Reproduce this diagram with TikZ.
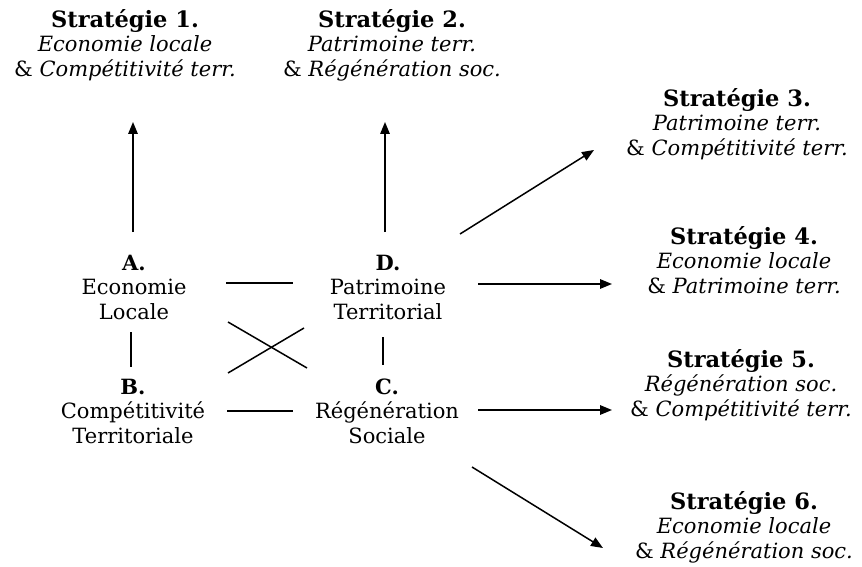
\documentclass[tikz,border=0pt]{standalone}
\usepackage{fontspec}
\setmainfont{DejaVu Serif}
\usetikzlibrary{arrows.meta,calc}
\newcommand{\hd}[1]{{\fontsize{22.5}{24.5}\selectfont\textbf{#1}}}
\begin{document}
\begin{tikzpicture}[x=1pt,y=-1pt,
  txt/.style={align=center,inner sep=0pt,font=\fontsize{21}{24.5}\selectfont},
  ln/.style={line width=1.5pt},
  arr/.style={line width=1.5pt,-{Triangle[length=12pt,width=9.5pt]}}]
\useasboundingbox (0,0) rectangle (862,567);
% strategy blocks
\node[txt] (S1) at (125,45) {\hd{Stratégie 1.}\\\textit{Economie locale}\\\& \textit{Compétitivité terr.}};
\node[txt] (S2) at (392,45) {\hd{Stratégie 2.}\\\textit{Patrimoine terr.}\\\& \textit{Régénération soc.}};
\node[txt] (S3) at (737,124) {\hd{Stratégie 3.}\\\textit{Patrimoine terr.}\\\& \textit{Compétitivité terr.}};
\node[txt] (S4) at (744,260) {\hd{Stratégie 4.}\\\textit{Economie locale}\\\& \textit{Patrimoine terr.}};
\node[txt] (S5) at (741,385) {\hd{Stratégie 5.}\\\textit{Régénération soc.}\\\& \textit{Compétitivité terr.}};
\node[txt] (S6) at (744,527) {\hd{Stratégie 6.}\\\textit{Economie locale}\\\& \textit{Régénération soc.}};
% dimension nodes
\node[txt] (A) at (134,287) {\textbf{A.}\\Economie\\Locale};
\node[txt] (D) at (388,287) {\textbf{D.}\\Patrimoine\\Territorial};
\node[txt] (B) at (133,411) {\textbf{B.}\\Compétitivité\\Territoriale};
\node[txt] (C) at (387,411) {\textbf{C.}\\Régénération\\Sociale};
% links between dimensions
\draw[ln] ($(A)+(92,-4)$) -- ($(D)+(-95,-4)$);
\draw[ln] ($(B)+(94,0)$) -- ($(C)+(-94,0)$);
\draw[ln] ($(A)+(-3,45)$) -- ($(B)+(-2,-44)$);
\draw[ln] ($(D)+(-5,50)$) -- ($(C)+(-4,-46)$);
\draw[ln] ($(A)+(94,35)$) -- ($(C)+(-80,-43)$);
\draw[ln] ($(B)+(95,-38)$) -- ($(D)+(-84,41)$);
% arrows to strategies
\draw[arr] ($(A)+(-1,-55)$) -- ($(S1)+(8,77)$);
\draw[arr] ($(D)+(-3,-55)$) -- ($(S2)+(-7,77)$);
\draw[arr] ($(D)+(72,-53)$) -- ($(S3)+(-143,26)$);
\draw[arr] ($(D)+(90,-3)$) -- ($(S4)+(-132,24)$);
\draw[arr] ($(C)+(91,-1)$) -- ($(S5)+(-129,25)$);
\draw[arr] ($(C)+(85,56)$) -- ($(S6)+(-141,21)$);
\end{tikzpicture}
\end{document}
